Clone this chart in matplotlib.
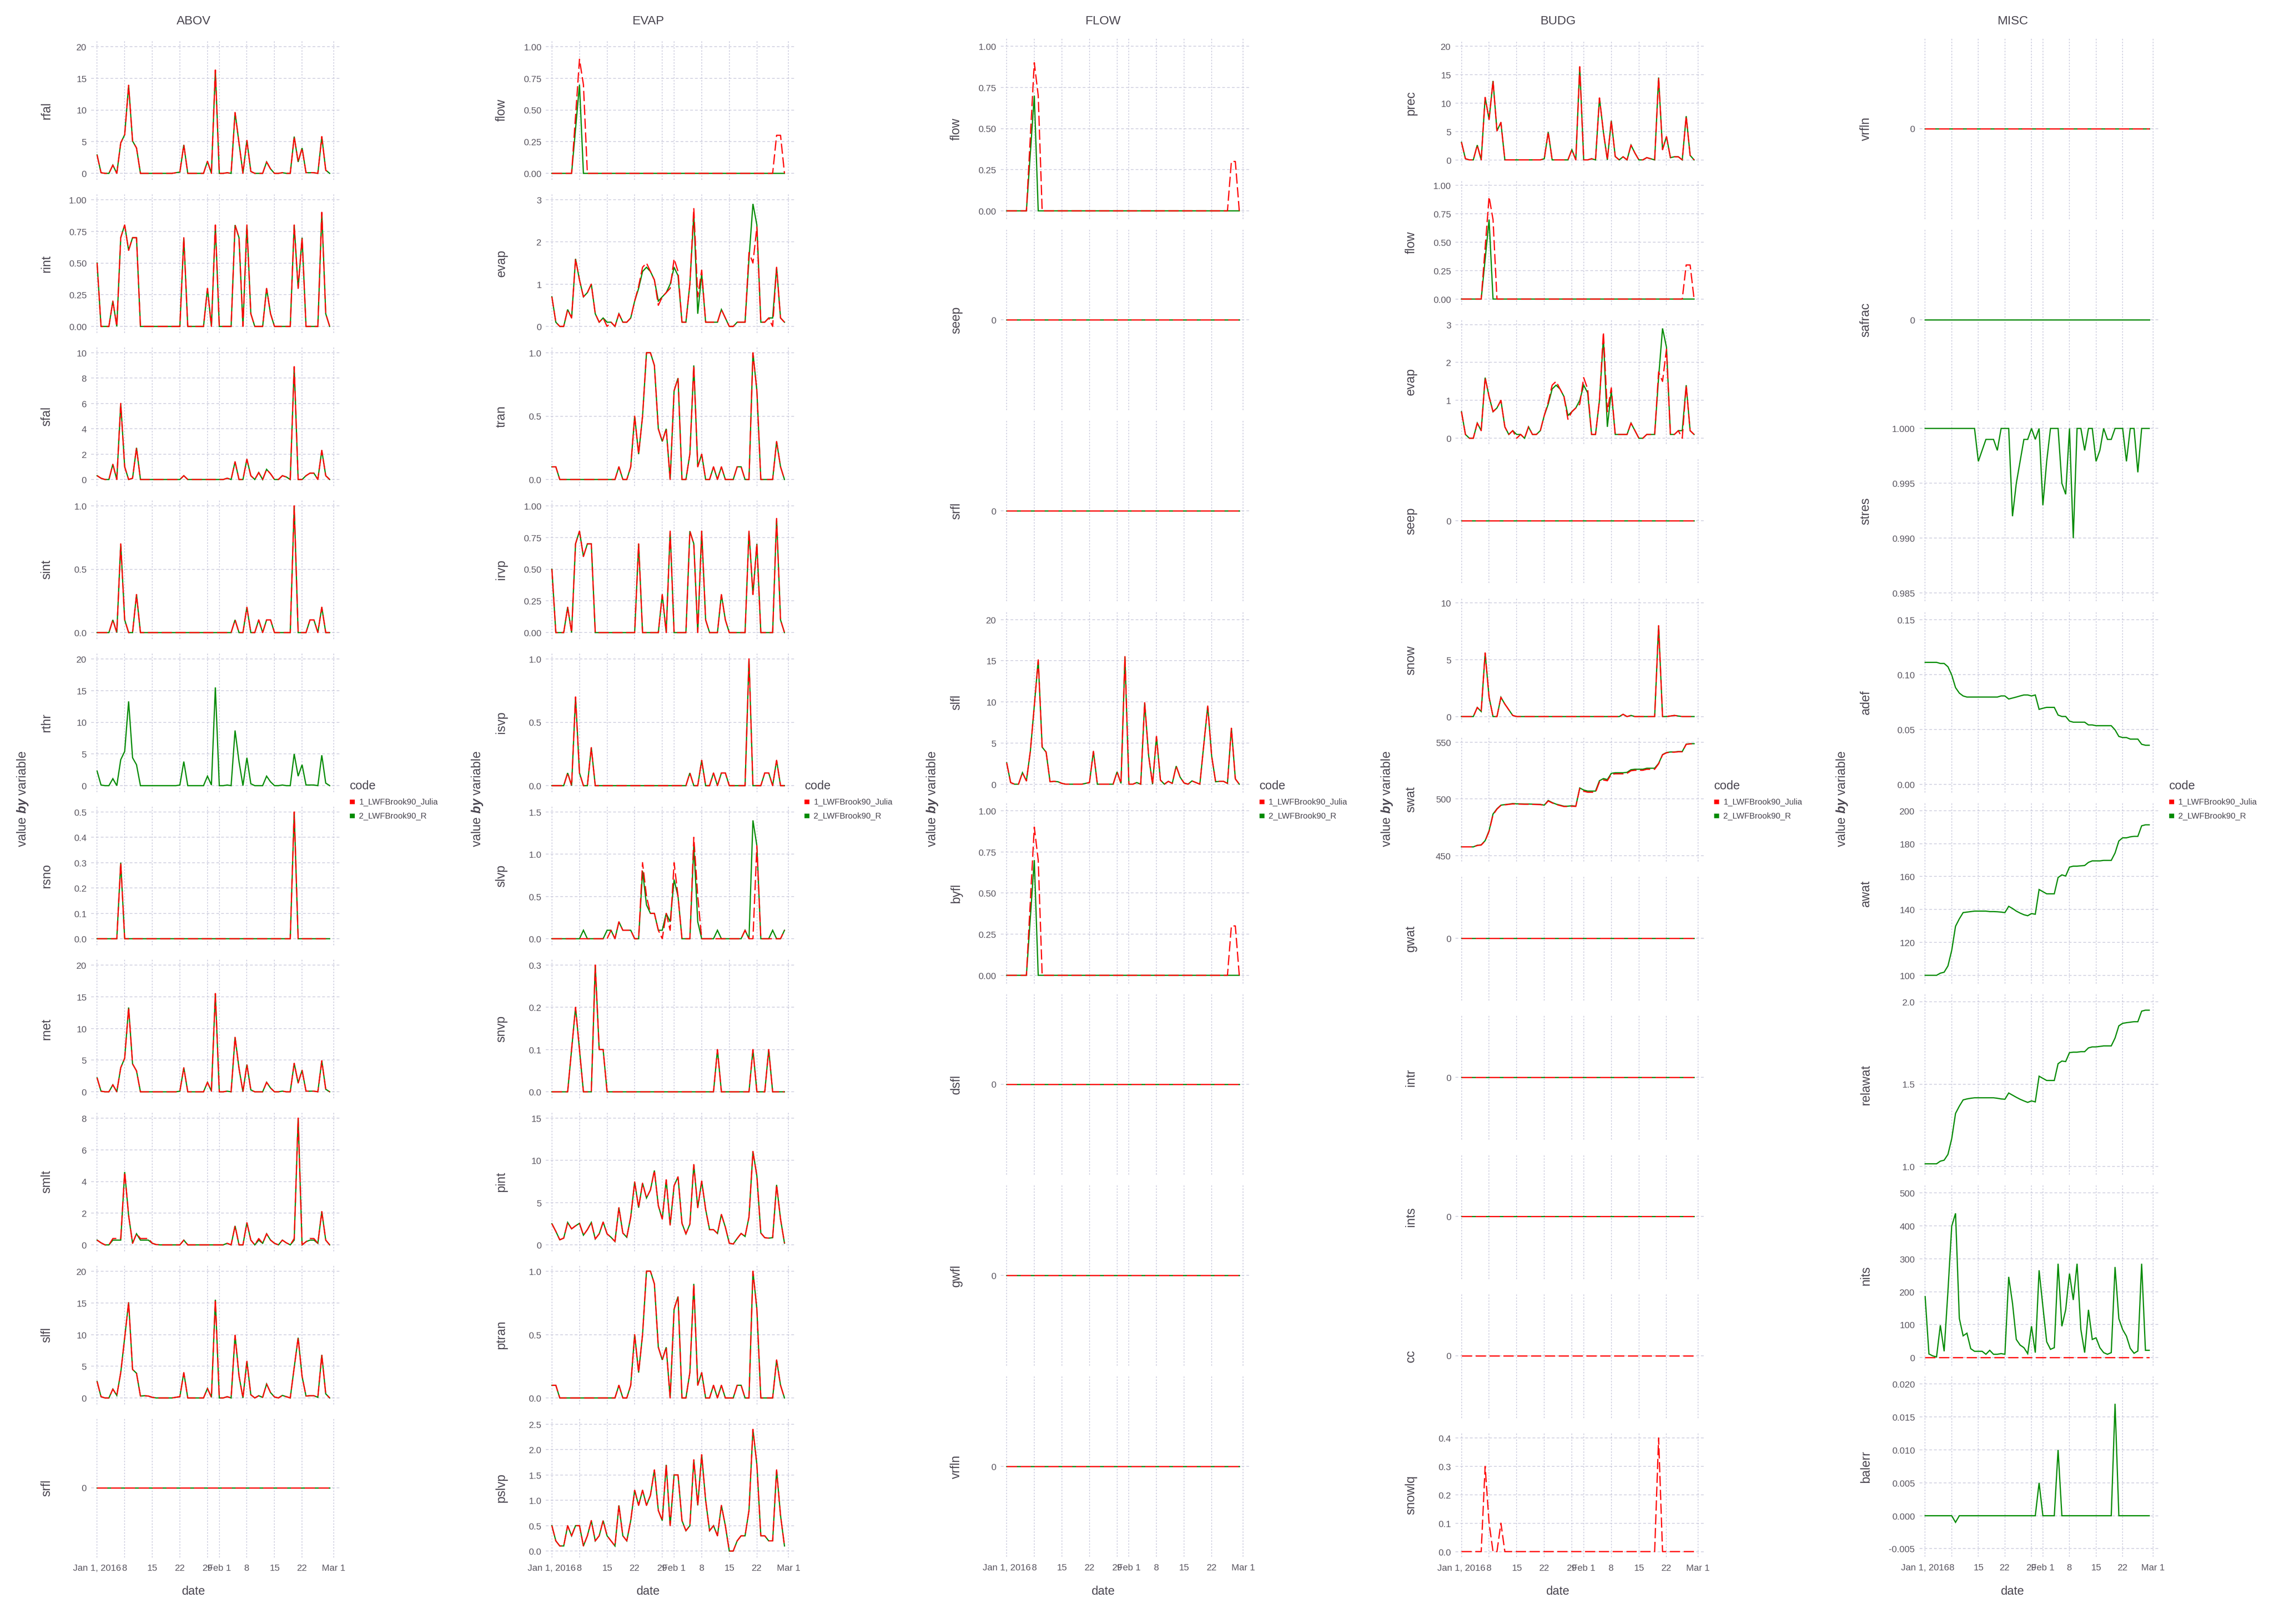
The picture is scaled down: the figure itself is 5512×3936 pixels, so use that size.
import matplotlib
matplotlib.use("Agg")
import matplotlib.pyplot as plt
from matplotlib import font_manager
from matplotlib.patches import Rectangle

W, H = 5512, 3937
DPI = 100

# ---- data: daily values, index 0 = 2016-01-01 ... 59 = 2016-02-29 ----
days = list(range(60))
xticks = [0, 7, 14, 21, 28, 31, 38, 45, 52, 60]
xlabels = ["Jan 1, 2016", "8", "15", "22", "29", "Feb 1", "8", "15", "22", "Mar 1"]
codes = ["1_LWFBrook90_Julia", "2_LWFBrook90_R"]

zero = [0.0] * 60

rfal = [2.9, 0.1, 0, 0, 1.3, 0, 4.8, 6.1, 13.9, 5.1, 4.0, 0, 0, 0, 0, 0, 0, 0, 0, 0,
        0.1, 0.2, 4.5, 0, 0, 0, 0, 0, 1.9, 0, 16.3, 0, 0, 0.1, 0, 9.6, 4.8, 0, 5.2, 0.3,
        0, 0, 0, 1.8, 0.7, 0, 0, 0.1, 0, 0, 5.8, 1.8, 4.0, 0.1, 0.1, 0.1, 0, 5.8, 0.5, 0]
rint = [0.5, 0, 0, 0, 0.2, 0, 0.7, 0.8, 0.6, 0.7, 0.7, 0, 0, 0, 0, 0, 0, 0, 0, 0,
        0, 0, 0.7, 0, 0, 0, 0, 0, 0.3, 0, 0.8, 0, 0, 0, 0, 0.8, 0.7, 0, 0.8, 0.1,
        0, 0, 0, 0.3, 0.1, 0, 0, 0, 0, 0, 0.8, 0.3, 0.7, 0, 0, 0, 0, 0.9, 0.1, 0]
sfal = [0.3, 0.1, 0, 0, 1.2, 0, 6.0, 1.0, 0, 0.1, 2.5, 0, 0, 0, 0, 0, 0, 0, 0, 0,
        0, 0, 0.3, 0, 0, 0, 0, 0, 0, 0, 0, 0, 0, 0.1, 0, 1.4, 0, 0, 1.6, 0.3,
        0, 0.55, 0, 0.8, 0.45, 0, 0, 0.3, 0.2, 0, 8.9, 0, 0, 0.3, 0.5, 0.5, 0, 2.3, 0.3, 0]
sint = [0, 0, 0, 0, 0.1, 0, 0.7, 0.1, 0, 0, 0.3, 0, 0, 0, 0, 0, 0, 0, 0, 0,
        0, 0, 0, 0, 0, 0, 0, 0, 0, 0, 0, 0, 0, 0, 0, 0.1, 0, 0, 0.2, 0,
        0, 0.1, 0, 0.1, 0.1, 0, 0, 0, 0, 0, 1.0, 0, 0, 0, 0.1, 0.1, 0, 0.2, 0, 0]
rthr = [2.3, 0.1, 0, 0, 1.1, 0, 4.1, 5.4, 13.3, 4.4, 3.3, 0, 0, 0, 0, 0, 0, 0, 0, 0,
        0, 0.1, 3.8, 0, 0, 0, 0, 0, 1.5, 0.1, 15.5, 0, 0, 0.1, 0, 8.7, 3.8, 0, 4.4, 0.3,
        0, 0, 0, 1.5, 0.6, 0, 0, 0.1, 0, 0, 5.0, 1.5, 3.3, 0.1, 0.1, 0.1, 0, 4.8, 0.4, 0]
rsno = [0, 0, 0, 0, 0, 0, 0.3, 0, 0, 0, 0, 0, 0, 0, 0, 0, 0, 0, 0, 0,
        0, 0, 0, 0, 0, 0, 0, 0, 0, 0, 0, 0, 0, 0, 0, 0, 0, 0, 0, 0,
        0, 0, 0, 0, 0, 0, 0, 0, 0, 0, 0.5, 0, 0, 0, 0, 0, 0, 0, 0, 0]
rnet = [2.2, 0.1, 0, 0, 1.1, 0, 3.8, 5.3, 13.3, 4.4, 3.3, 0, 0, 0, 0, 0, 0, 0, 0, 0,
        0, 0.1, 3.8, 0, 0, 0, 0, 0, 1.5, 0.1, 15.5, 0, 0, 0.1, 0, 8.6, 3.7, 0, 4.3, 0.3,
        0, 0, 0, 1.5, 0.6, 0, 0, 0.1, 0, 0, 4.5, 1.4, 3.4, 0.1, 0.1, 0.1, 0, 4.9, 0.4, 0]
smlt_r = [0.3, 0.13, 0, 0, 0.3, 0.3, 0.3, 4.6, 1.85, 0.1, 0.7, 0.3, 0.3, 0.3, 0.1, 0.02, 0, 0, 0, 0,
          0, 0, 0.3, 0, 0, 0, 0, 0, 0, 0, 0, 0, 0, 0.1, 0, 1.2, 0, 0, 1.4, 0.3,
          0, 0.3, 0.1, 0.7, 0.3, 0.1, 0, 0.3, 0.13, 0, 0.3, 8.0, 0, 0.2, 0.3, 0.3, 0.1, 2.1, 0.3, 0]
smlt_j = [0.3, 0.13, 0, 0, 0.4, 0.4, 0.4, 4.6, 1.85, 0.1, 0.7, 0.4, 0.4, 0.4, 0.1, 0.02, 0, 0, 0, 0,
          0, 0, 0.3, 0, 0, 0, 0, 0, 0, 0, 0, 0, 0, 0.1, 0, 1.2, 0, 0, 1.4, 0.3,
          0, 0.4, 0.1, 0.7, 0.3, 0.1, 0, 0.3, 0.13, 0, 0.4, 8.0, 0, 0.2, 0.4, 0.4, 0.1, 2.1, 0.3, 0]
slfl = [2.6, 0.2, 0, 0, 1.4, 0.4, 4.0, 9.5, 15.1, 4.5, 3.9, 0.3, 0.35, 0.3, 0.1, 0, 0, 0, 0, 0,
        0.1, 0.2, 4.0, 0, 0, 0, 0, 0, 1.5, 0.1, 15.5, 0, 0, 0.2, 0, 9.9, 3.5, 0, 5.8, 0.5,
        0, 0.35, 0.1, 2.2, 0.85, 0.15, 0, 0.4, 0.2, 0, 4.8, 9.5, 3.4, 0.3, 0.35, 0.35, 0.1, 6.8, 0.65, 0]

flow_j = [0, 0, 0, 0, 0, 0, 0.45, 0.9, 0.7, 0, 0, 0, 0, 0, 0, 0, 0, 0, 0, 0,
          0, 0, 0, 0, 0, 0, 0, 0, 0, 0, 0, 0, 0, 0, 0, 0, 0, 0, 0, 0,
          0, 0, 0, 0, 0, 0, 0, 0, 0, 0, 0, 0, 0, 0, 0, 0, 0, 0.3, 0.3, 0]
flow_r = [0, 0, 0, 0, 0, 0, 0.35, 0.7, 0, 0, 0, 0, 0, 0, 0, 0, 0, 0, 0, 0,
          0, 0, 0, 0, 0, 0, 0, 0, 0, 0, 0, 0, 0, 0, 0, 0, 0, 0, 0, 0,
          0, 0, 0, 0, 0, 0, 0, 0, 0, 0, 0, 0, 0, 0, 0, 0, 0, 0, 0, 0]
evap_r = [0.7, 0.1, 0, 0, 0.4, 0.2, 1.6, 1.1, 0.7, 0.8, 1.0, 0.3, 0.1, 0.2, 0.1, 0.1, 0, 0.3, 0.1, 0.1,
          0.2, 0.6, 0.9, 1.3, 1.4, 1.3, 1.1, 0.6, 0.7, 0.8, 1.0, 1.4, 1.2, 0.1, 0.1, 1.0, 2.65, 0.3, 1.25, 0.1,
          0.1, 0.1, 0.1, 0.4, 0.2, 0, 0, 0.1, 0.1, 0.1, 1.6, 2.9, 2.4, 0.1, 0.1, 0.2, 0.2, 1.4, 0.2, 0.1]
evap_j = [0.7, 0.1, 0, 0, 0.4, 0.2, 1.6, 1.1, 0.7, 0.8, 1.0, 0.3, 0.1, 0.2, 0.0, 0.1, 0, 0.3, 0.1, 0.1,
          0.2, 0.6, 0.95, 1.4, 1.5, 1.3, 1.1, 0.5, 0.7, 0.8, 0.9, 1.6, 1.3, 0.1, 0.1, 1.0, 2.8, 0.7, 1.33, 0.1,
          0.1, 0.1, 0.1, 0.4, 0.2, 0, 0, 0.1, 0.1, 0.1, 1.75, 1.5, 2.35, 0.1, 0.1, 0.2, 0.0, 1.4, 0.2, 0.1]
tran = [0.1, 0.1, 0, 0, 0, 0, 0, 0, 0, 0, 0, 0, 0, 0, 0, 0, 0, 0.1, 0, 0,
        0.1, 0.5, 0.2, 0.5, 1.0, 1.0, 0.9, 0.4, 0.3, 0.4, 0, 0.7, 0.8, 0, 0, 0.2, 0.9, 0.1, 0.2, 0,
        0, 0.1, 0, 0.1, 0, 0, 0, 0.1, 0.1, 0, 0, 1.0, 0.7, 0, 0, 0, 0, 0.3, 0.1, 0]
irvp = [0.5, 0, 0, 0, 0.2, 0, 0.7, 0.8, 0.6, 0.7, 0.7, 0, 0, 0, 0, 0, 0, 0, 0, 0,
        0, 0, 0.7, 0, 0, 0, 0, 0, 0.3, 0, 0.8, 0, 0, 0, 0, 0.8, 0.7, 0, 0.8, 0.1,
        0, 0, 0, 0.3, 0.1, 0, 0, 0, 0, 0, 0.8, 0.3, 0.7, 0, 0, 0, 0, 0.9, 0.1, 0]
isvp = [0, 0, 0, 0, 0.1, 0, 0.7, 0.1, 0, 0, 0.3, 0, 0, 0, 0, 0, 0, 0, 0, 0,
        0, 0, 0, 0, 0, 0, 0, 0, 0, 0, 0, 0, 0, 0, 0, 0.1, 0, 0, 0.2, 0,
        0, 0.1, 0, 0.1, 0.1, 0, 0, 0, 0, 0, 1.0, 0, 0, 0, 0.1, 0.1, 0, 0.2, 0, 0]
slvp_r = [0, 0, 0, 0, 0, 0, 0, 0, 0.1, 0, 0, 0, 0, 0, 0.1, 0.1, 0, 0.2, 0.1, 0.1,
          0.1, 0, 0, 0.8, 0.4, 0.3, 0.3, 0.1, 0.1, 0.3, 0.2, 0.7, 0.5, 0, 0, 0, 1.1, 0.2, 0, 0,
          0, 0, 0.1, 0, 0, 0, 0, 0, 0, 0.1, 0, 1.4, 1.1, 0, 0, 0, 0.1, 0, 0, 0.1]
slvp_j = [0, 0, 0, 0, 0, 0, 0, 0, 0, 0, 0, 0, 0, 0, 0, 0.1, 0, 0.2, 0.1, 0.1,
          0.1, 0, 0, 0.9, 0.5, 0.3, 0.3, 0.1, 0.0, 0.3, 0.1, 0.9, 0.5, 0, 0, 0, 1.2, 0.5, 0, 0,
          0, 0, 0, 0, 0, 0, 0, 0, 0, 0.1, 0, 0, 1.1, 0, 0, 0, 0, 0, 0, 0.1]
snvp = [0, 0, 0, 0, 0, 0.1, 0.2, 0.1, 0, 0, 0, 0.3, 0.1, 0.1, 0, 0, 0, 0, 0, 0,
        0, 0, 0, 0, 0, 0, 0, 0, 0, 0, 0, 0, 0, 0, 0, 0, 0, 0, 0, 0,
        0, 0, 0.1, 0, 0, 0, 0, 0, 0, 0, 0, 0.1, 0, 0, 0, 0.1, 0, 0, 0, 0]
pint = [2.5, 1.6, 0.6, 0.8, 2.65, 1.9, 2.25, 2.55, 1.15, 1.8, 2.65, 0.7, 1.3, 2.7, 1.3, 0.9, 0.4, 4.4, 1.4, 0.9,
        3.3, 7.45, 4.4, 7.3, 5.55, 6.5, 8.8, 4.65, 3.05, 7.7, 2.35, 7.0, 8.05, 2.55, 1.3, 2.45, 9.5, 4.4, 7.55, 4.2,
        1.8, 1.8, 1.35, 3.6, 2.1, 0.2, 0.1, 0.75, 1.35, 1.0, 3.3, 11.05, 8.15, 1.4, 0.85, 0.8, 0.85, 7.1, 3.05, 0.2]
ptran = [0.1, 0.1, 0, 0, 0, 0, 0, 0, 0, 0, 0, 0, 0, 0, 0, 0, 0, 0.1, 0, 0,
         0.1, 0.5, 0.2, 0.5, 1.0, 1.0, 0.9, 0.4, 0.3, 0.4, 0, 0.7, 0.8, 0, 0, 0.2, 0.9, 0.1, 0.2, 0,
         0, 0.1, 0, 0.1, 0, 0, 0, 0.1, 0.1, 0, 0, 1.0, 0.7, 0, 0, 0, 0, 0.3, 0.1, 0]
pslvp = [0.5, 0.2, 0.1, 0.1, 0.5, 0.3, 0.5, 0.5, 0.1, 0.3, 0.6, 0.2, 0.3, 0.6, 0.3, 0.2, 0.1, 0.9, 0.3, 0.2,
         0.6, 1.2, 0.9, 1.2, 0.9, 1.1, 1.6, 0.8, 0.6, 1.7, 0.5, 1.5, 1.5, 0.6, 0.4, 0.5, 1.8, 0.9, 1.9, 1.0,
         0.4, 0.5, 0.3, 0.9, 0.5, 0, 0, 0.2, 0.3, 0.3, 0.8, 2.4, 1.7, 0.3, 0.3, 0.2, 0.2, 1.6, 0.7, 0.1]

prec = [3.1, 0.2, 0, 0, 2.6, 0, 11.0, 7.1, 13.9, 5.1, 6.6, 0, 0, 0, 0, 0, 0, 0, 0, 0,
        0, 0.2, 4.9, 0, 0, 0, 0, 0, 1.8, 0, 16.4, 0, 0, 0.2, 0, 10.9, 4.9, 0, 6.9, 0.6,
        0, 0.55, 0, 2.6, 1.2, 0, 0, 0.4, 0.2, 0, 14.5, 1.8, 4.1, 0.4, 0.55, 0.55, 0, 7.7, 0.8, 0]
snow = [0, 0, 0, 0, 0.8, 0.45, 5.6, 1.7, 0, 0, 1.7, 1.1, 0.6, 0.1, 0, 0, 0, 0, 0, 0,
        0, 0, 0, 0, 0, 0, 0, 0, 0, 0, 0, 0, 0, 0, 0, 0, 0, 0, 0, 0,
        0, 0.2, 0, 0.1, 0, 0, 0, 0, 0, 0, 8.0, 0, 0, 0.05, 0.1, 0.05, 0, 0, 0, 0]
swat_r = [457.8, 457.8, 457.8, 457.8, 459.2, 459.6, 463.3, 472.0, 486.7, 491.3, 494.5, 495.0, 495.4, 495.9, 495.7,
          495.6, 495.5, 495.5, 495.4, 495.3, 495.2, 494.5, 498.6, 496.8, 495.4, 494.5, 493.6, 493.6, 494.0, 493.6,
          509.6, 507.8, 506.9, 506.9, 506.9, 516.0, 517.9, 517.0, 522.5, 523.0, 523.0, 523.0, 523.4, 525.7, 526.1,
          526.1, 526.1, 527.0, 527.0, 527.0, 531.2, 539.0, 540.8, 541.3, 541.3, 541.7, 541.7, 548.2, 548.6, 548.6]
swat_j = [457.8, 457.8, 457.8, 457.8, 459.0, 459.4, 463.0, 471.5, 486.0, 491.0, 494.3, 494.8, 495.2, 495.6, 495.5,
          495.4, 495.3, 495.3, 495.2, 495.1, 495.0, 494.3, 498.2, 496.5, 495.1, 494.2, 493.3, 493.3, 493.6, 493.4,
          509.2, 506.8, 505.9, 505.9, 505.9, 515.0, 516.7, 516.0, 521.6, 522.1, 522.1, 522.1, 522.5, 524.8, 525.2,
          525.2, 525.2, 526.1, 526.1, 526.1, 530.8, 538.8, 540.6, 541.1, 541.1, 541.5, 541.5, 548.0, 548.4, 548.4]
snowlq = [0, 0, 0, 0, 0, 0, 0.3, 0.1, 0, 0, 0.1, 0, 0, 0, 0, 0, 0, 0, 0, 0,
          0, 0, 0, 0, 0, 0, 0, 0, 0, 0, 0, 0, 0, 0, 0, 0, 0, 0, 0, 0,
          0, 0, 0, 0, 0, 0, 0, 0, 0, 0, 0.4, 0, 0, 0, 0, 0, 0, 0, 0, 0]

stres = [1.0, 1.0, 1.0, 1.0, 1.0, 1.0, 1.0, 1.0, 1.0, 1.0, 1.0, 1.0, 1.0, 1.0, 0.997, 0.998, 0.999, 0.999, 0.999, 0.998,
         1.0, 1.0, 1.0, 0.992, 0.995, 0.997, 0.999, 0.999, 1.0, 0.999, 1.0, 0.993, 0.997, 1.0, 1.0, 1.0, 0.995, 0.994, 1.0, 0.990,
         1.0, 1.0, 0.998, 1.0, 1.0, 0.997, 0.998, 1.0, 0.999, 0.999, 1.0, 1.0, 1.0, 0.997, 1.0, 1.0, 0.996, 1.0, 1.0, 1.0]
adef = [0.111, 0.111, 0.111, 0.111, 0.110, 0.110, 0.107, 0.0995, 0.088, 0.083, 0.0804, 0.0794, 0.0794, 0.0794, 0.0794,
        0.0794, 0.0794, 0.0794, 0.0794, 0.0794, 0.0804, 0.0804, 0.0776, 0.0785, 0.0794, 0.0804, 0.0813, 0.0813, 0.0804, 0.0813,
        0.0682, 0.0692, 0.070, 0.070, 0.070, 0.063, 0.0617, 0.0617, 0.0575, 0.0565, 0.0565, 0.0565, 0.0565, 0.054, 0.054,
        0.0533, 0.0533, 0.0533, 0.0533, 0.0533, 0.0495, 0.0435, 0.0425, 0.0425, 0.0411, 0.0411, 0.0411, 0.0364, 0.0355, 0.0355]
awat = [100.0, 100.0, 100.0, 100.0, 101.3, 101.9, 105.7, 115.2, 129.8, 134.3, 138.1, 138.4, 138.7, 139.0, 139.0,
        139.0, 139.0, 138.7, 138.7, 138.6, 138.4, 138.1, 141.9, 140.6, 139.0, 137.8, 136.8, 136.2, 137.5, 137.1,
        152.1, 150.8, 149.5, 149.5, 149.5, 159.4, 161.0, 160.3, 165.7, 166.3, 166.3, 166.5, 166.7, 168.6, 169.5,
        169.5, 169.5, 169.8, 169.8, 169.8, 174.3, 181.6, 183.5, 183.5, 184.1, 184.4, 184.4, 190.8, 191.4, 191.4]
relawat = [1.016, 1.016, 1.016, 1.016, 1.032, 1.038, 1.073, 1.169, 1.322, 1.366, 1.404, 1.41, 1.414, 1.417, 1.417,
           1.417, 1.417, 1.417, 1.417, 1.414, 1.41, 1.408, 1.446, 1.433, 1.42, 1.408, 1.398, 1.389, 1.398, 1.392,
           1.548, 1.535, 1.522, 1.522, 1.522, 1.624, 1.64, 1.637, 1.691, 1.694, 1.694, 1.697, 1.697, 1.72, 1.726,
           1.726, 1.729, 1.732, 1.732, 1.732, 1.78, 1.854, 1.869, 1.873, 1.876, 1.879, 1.879, 1.943, 1.949, 1.949]
nits_r = [185, 11, 5, 2, 98, 19, 201, 399, 438, 119, 66, 74, 27, 19, 19, 19, 10, 22, 10, 10,
          12, 10, 245, 165, 55, 38, 30, 12, 95, 15, 265, 155, 48, 25, 30, 285, 95, 145, 255, 175,
          285, 85, 15, 145, 55, 60, 30, 15, 10, 15, 275, 118, 85, 65, 28, 13, 20, 285, 22, 22]
balerr = [0, 0, 0, 0, 0, 0, 0, 0, -0.001, 0, 0, 0, 0, 0, 0, 0, 0, 0, 0, 0,
          0, 0, 0, 0, 0, 0, 0, 0, 0, 0, 0.005, 0, 0, 0, 0, 0.010, 0, 0, 0, 0,
          0, 0, 0, 0, 0, 0, 0, 0, 0, 0, 0.017, 0, 0, 0, 0, 0, 0, 0, 0, 0]

# y breaks per variable (values, labels)
t_20 = ([0, 5, 10, 15, 20], ["0", "5", "10", "15", "20"])
t_q1 = ([0, 0.25, 0.5, 0.75, 1.0], ["0.00", "0.25", "0.50", "0.75", "1.00"])
t_h1 = ([0, 0.5, 1.0], ["0.0", "0.5", "1.0"])
t_0 = ([0], ["0"])

columns = [
    ("ABOV", [
        ("rfal", rfal, rfal, t_20),
        ("rint", rint, rint, t_q1),
        ("sfal", sfal, sfal, ([0, 2, 4, 6, 8, 10], ["0", "2", "4", "6", "8", "10"])),
        ("sint", sint, sint, t_h1),
        ("rthr", None, rthr, t_20),
        ("rsno", rsno, rsno, ([0, 0.1, 0.2, 0.3, 0.4, 0.5], ["0.0", "0.1", "0.2", "0.3", "0.4", "0.5"])),
        ("rnet", rnet, rnet, t_20),
        ("smlt", smlt_j, smlt_r, ([0, 2, 4, 6, 8], ["0", "2", "4", "6", "8"])),
        ("slfl", slfl, slfl, t_20),
        ("srfl", zero, zero, t_0),
    ]),
    ("EVAP", [
        ("flow", flow_j, flow_r, t_q1),
        ("evap", evap_j, evap_r, ([0, 1, 2, 3], ["0", "1", "2", "3"])),
        ("tran", tran, tran, t_h1),
        ("irvp", irvp, irvp, t_q1),
        ("isvp", isvp, isvp, t_h1),
        ("slvp", slvp_j, slvp_r, ([0, 0.5, 1.0, 1.5], ["0.0", "0.5", "1.0", "1.5"])),
        ("snvp", snvp, snvp, ([0, 0.1, 0.2, 0.3], ["0.0", "0.1", "0.2", "0.3"])),
        ("pint", pint, pint, ([0, 5, 10, 15], ["0", "5", "10", "15"])),
        ("ptran", ptran, ptran, t_h1),
        ("pslvp", pslvp, pslvp, ([0, 0.5, 1.0, 1.5, 2.0, 2.5], ["0.0", "0.5", "1.0", "1.5", "2.0", "2.5"])),
    ]),
    ("FLOW", [
        ("flow", flow_j, flow_r, t_q1),
        ("seep", zero, zero, t_0),
        ("srfl", zero, zero, t_0),
        ("slfl", slfl, slfl, t_20),
        ("byfl", flow_j, flow_r, t_q1),
        ("dsfl", zero, zero, t_0),
        ("gwfl", zero, zero, t_0),
        ("vrfln", zero, zero, t_0),
    ]),
    ("BUDG", [
        ("prec", prec, prec, t_20),
        ("flow", flow_j, flow_r, t_q1),
        ("evap", evap_j, evap_r, ([0, 1, 2, 3], ["0", "1", "2", "3"])),
        ("seep", zero, zero, t_0),
        ("snow", snow, snow, ([0, 5, 10], ["0", "5", "10"])),
        ("swat", swat_j, swat_r, ([450, 500, 550], ["450", "500", "550"])),
        ("gwat", zero, zero, t_0),
        ("intr", zero, zero, t_0),
        ("ints", zero, zero, t_0),
        ("cc", zero, None, t_0),
        ("snowlq", snowlq, None, ([0, 0.1, 0.2, 0.3, 0.4], ["0.0", "0.1", "0.2", "0.3", "0.4"])),
    ]),
    ("MISC", [
        ("vrfln", zero, zero, t_0),
        ("safrac", None, zero, t_0),
        ("stres", None, stres, ([0.985, 0.990, 0.995, 1.000], ["0.985", "0.990", "0.995", "1.000"])),
        ("adef", None, adef, ([0, 0.05, 0.10, 0.15], ["0.00", "0.05", "0.10", "0.15"])),
        ("awat", None, awat, ([100, 120, 140, 160, 180, 200], ["100", "120", "140", "160", "180", "200"])),
        ("relawat", None, relawat, ([1.0, 1.5, 2.0], ["1.0", "1.5", "2.0"])),
        ("nits", zero, nits_r, ([0, 100, 200, 300, 400, 500], ["0", "100", "200", "300", "400", "500"])),
        ("balerr", None, balerr, ([-0.005, 0, 0.005, 0.010, 0.015, 0.020],
                                  ["-0.005", "0.000", "0.005", "0.010", "0.015", "0.020"])),
    ]),
]

# ---- layout (pixels, y from top) ----
COL_W = W / 5
layout = {
    "ABOV": dict(pl=221, pr=823, top=98.5, h=338, pitch=371),
    "EVAP": dict(pl=221, pr=823, top=98.5, h=338, pitch=371),
    "FLOW": dict(pl=221, pr=823, top=93, h=439, pitch=463.2),
    "BUDG": dict(pl=221, pr=823, top=99.3, h=303, pitch=337.3),
    "MISC": dict(pl=243, pr=823, top=93, h=439, pitch=463.2),
}
RED = "#FF0000"
GREEN = "#008B00"
GRID = "#c9c9dc"
TXT = "#4a4650"
TICK = "#5c5862"

names = {f.name for f in font_manager.fontManager.ttflist}
FONT = "Liberation Sans" if "Liberation Sans" in names else "DejaVu Sans"
plt.rcParams["font.family"] = [FONT, "DejaVu Sans"]
plt.rcParams["mathtext.fontset"] = "custom"
plt.rcParams["mathtext.rm"] = FONT
plt.rcParams["mathtext.bf"] = FONT + ":bold:italic"


def rect(left, top, w, h):
    return [left / W, 1 - (top + h) / H, w / W, h / H]


def fx(x):
    return x / W


def fy(y):
    return 1 - y / H


fig = plt.figure(figsize=(W / DPI, H / DPI), dpi=DPI)
fig.patch.set_facecolor("white")

for ci, (title, panels) in enumerate(columns):
    x0 = ci * COL_W
    L = layout[title]
    pw = L["pr"] - L["pl"]
    n = len(panels)
    for pi, (name, jv, rv, (tv, tl)) in enumerate(panels):
        top = L["top"] + pi * L["pitch"]
        ax = fig.add_axes(rect(x0 + L["pl"], top, pw, L["h"]))
        ax.set_facecolor("none")
        for s in ax.spines.values():
            s.set_visible(False)
        if rv is not None:
            ax.plot(days, rv, color=GREEN, lw=2.1, solid_joinstyle="miter", zorder=3)
        if jv is not None:
            ax.plot(days, jv, color=RED, lw=2.1, dashes=(8.5, 3), zorder=4)
        lo, hi = tv[0], tv[-1]
        if hi == lo:
            ax.set_ylim(-1, 1)
        else:
            pad = 0.05 * (hi - lo)
            ax.set_ylim(lo - pad, hi + pad)
        ax.set_xlim(-1.5, 61.5)
        ax.set_yticks(tv)
        ax.set_yticklabels(tl)
        ax.set_xticks(xticks)
        if pi == n - 1:
            ax.set_xticklabels(xlabels)
        else:
            ax.set_xticklabels([])
        ax.tick_params(axis="both", length=0, labelsize=16, labelcolor=TICK)
        ax.tick_params(axis="y", pad=8)
        ax.tick_params(axis="x", pad=11)
        ax.yaxis.grid(True, color=GRID, lw=1.2, ls=(0, (4, 3)))
        ax.xaxis.grid(True, color=GRID, lw=1.3, ls=(0, (2, 2)))
        ax.set_axisbelow(True)
        # strip label on the left
        ax.text((x0 + 113 - (x0 + L["pl"])) / pw, 0.5, name, transform=ax.transAxes,
                rotation=90, ha="center", va="center", fontsize=22, color=TXT)

    fig.text(fx(x0 + 469), fy(51), title, ha="center", va="center", fontsize=21.5, color=TXT)
    fig.text(fx(x0 + 469), fy(3857), "date", ha="center", va="center", fontsize=21, color=TXT)
    fig.text(fx(x0 + 55), fy(1937), r"value $\mathbf{by}$ variable", rotation=90,
             ha="center", va="center", fontsize=22, color=TXT)

    # legend
    fig.text(fx(x0 + 848), fy(1905), "code", ha="left", va="center", fontsize=21, color=TXT)
    for k, (lab, col) in enumerate(zip(codes, [RED, GREEN])):
        yc = 1944 + k * 34.5
        fig.add_artist(Rectangle((fx(x0 + 848), fy(yc + 5.5)), 12 / W, 11 / H,
                                 transform=fig.transFigure, color=col, lw=0))
        fig.text(fx(x0 + 870), fy(yc), lab, ha="left", va="center", fontsize=14.5, color=TXT)

fig.savefig("out.png", dpi=DPI)
